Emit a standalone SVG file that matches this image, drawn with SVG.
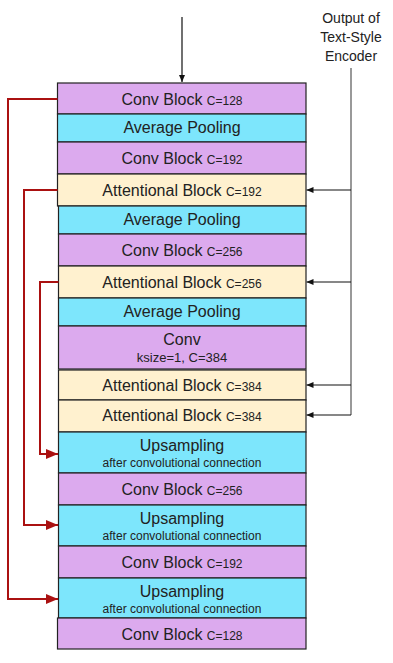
<svg xmlns="http://www.w3.org/2000/svg" width="393" height="663" viewBox="0 0 393 663">
<style>
  text { font-family: "Liberation Sans", Arial, sans-serif; fill: #222; text-anchor: middle; }
  .big { font-size: 16px; }
  .sm { font-size: 12px; }
  .mid { font-size: 13px; }
  .lab { font-size: 14px; }
  .conv { fill: #dcaaee; stroke: #222; stroke-width: 1.2; }
  .pool { fill: #7de6fc; stroke: #222; stroke-width: 1.2; }
  .attn { fill: #fff1cf; stroke: #222; stroke-width: 1.2; }
  .red { fill: none; stroke: #aa1111; stroke-width: 2; }
  .blk { fill: none; stroke: #111; stroke-width: 1.2; }
  .gry { fill: none; stroke: #777; stroke-width: 1.5; }
</style>
<defs>
  <marker id="ar" markerUnits="userSpaceOnUse" markerWidth="12" markerHeight="10" refX="12" refY="5" orient="auto">
    <path d="M0,0 L12,5 L0,10 z" fill="#aa1111"/>
  </marker>
  <marker id="ab" markerUnits="userSpaceOnUse" markerWidth="7" markerHeight="6" refX="7" refY="3" orient="auto">
    <path d="M0,0 L7,3 L0,6 z" fill="#111"/>
  </marker>
</defs>

<g id="enc-label">
  <text class="lab" x="351" y="23">Output of</text>
  <text class="lab" x="351" y="42">Text-Style</text>
  <text class="lab" x="351" y="61">Encoder</text>
</g>

<g id="n1"><rect class="conv" x="57.5" y="83" width="248.5" height="31"/><text x="182" y="105"><tspan class="big">Conv Block </tspan><tspan class="sm">C=128</tspan></text></g>
<g id="n2"><rect class="pool" x="57.5" y="114" width="248.5" height="28"/><text class="big" x="182" y="133">Average Pooling</text></g>
<g id="n3"><rect class="conv" x="57.5" y="142" width="248.5" height="32"/><text x="182" y="164"><tspan class="big">Conv Block </tspan><tspan class="sm">C=192</tspan></text></g>
<g id="n4"><rect class="attn" x="57.5" y="174" width="248.5" height="32"/><text x="182" y="196"><tspan class="big">Attentional Block </tspan><tspan class="sm">C=192</tspan></text></g>
<g id="n5"><rect class="pool" x="58.5" y="206" width="247.5" height="28"/><text class="big" x="182" y="225">Average Pooling</text></g>
<g id="n6"><rect class="conv" x="58.5" y="234" width="247.5" height="32"/><text x="182" y="256"><tspan class="big">Conv Block </tspan><tspan class="sm">C=256</tspan></text></g>
<g id="n7"><rect class="attn" x="58.5" y="266" width="247.5" height="32"/><text x="182" y="288"><tspan class="big">Attentional Block </tspan><tspan class="sm">C=256</tspan></text></g>
<g id="n8"><rect class="pool" x="58.5" y="298" width="247.5" height="28"/><text class="big" x="182" y="317">Average Pooling</text></g>
<g id="n9"><rect class="conv" x="58.5" y="326" width="247.5" height="43"/><text class="big" x="182" y="345">Conv</text><text class="mid" x="182" y="362">ksize=1, C=384</text></g>
<g id="n10"><rect class="attn" x="58.5" y="370" width="247.5" height="30"/><text x="182" y="391"><tspan class="big">Attentional Block </tspan><tspan class="sm">C=384</tspan></text></g>
<g id="n11"><rect class="attn" x="58.5" y="400" width="247.5" height="32"/><text x="182" y="421"><tspan class="big">Attentional Block </tspan><tspan class="sm">C=384</tspan></text></g>
<g id="n12"><rect class="pool" x="58.5" y="432" width="247.5" height="41"/><text class="big" x="182" y="451">Upsampling</text><text class="sm" x="182" y="467">after convolutional connection</text></g>
<g id="n13"><rect class="conv" x="58.5" y="473" width="247.5" height="32"/><text x="182" y="495"><tspan class="big">Conv Block </tspan><tspan class="sm">C=256</tspan></text></g>
<g id="n14"><rect class="pool" x="58.5" y="505" width="247.5" height="41"/><text class="big" x="182" y="524">Upsampling</text><text class="sm" x="182" y="540">after convolutional connection</text></g>
<g id="n15"><rect class="conv" x="58.5" y="546" width="247.5" height="32"/><text x="182" y="568"><tspan class="big">Conv Block </tspan><tspan class="sm">C=192</tspan></text></g>
<g id="n16"><rect class="pool" x="58.5" y="578" width="247.5" height="40"/><text class="big" x="182" y="597">Upsampling</text><text class="sm" x="182" y="613">after convolutional connection</text></g>
<g id="n17"><rect class="conv" x="57.5" y="618" width="248.5" height="31"/><text x="182" y="640"><tspan class="big">Conv Block </tspan><tspan class="sm">C=128</tspan></text></g>

<g id="connectors">
  <path class="blk" d="M182,17 V82" marker-end="url(#ab)"/>
  <path class="gry" d="M351,68 V415"/>
  <path class="blk" d="M351,190 H306.5" marker-end="url(#ab)"/>
  <path class="blk" d="M351,282 H306.5" marker-end="url(#ab)"/>
  <path class="blk" d="M351,385 H306.5" marker-end="url(#ab)"/>
  <path class="blk" d="M351,415 H306.5" marker-end="url(#ab)"/>
  <path class="red" d="M57.5,99 H8 V599 H58" marker-end="url(#ar)"/>
  <path class="red" d="M57.5,190 H24 V525 H58" marker-end="url(#ar)"/>
  <path class="red" d="M58.5,282 H40 V454 H58" marker-end="url(#ar)"/>
</g>
</svg>
